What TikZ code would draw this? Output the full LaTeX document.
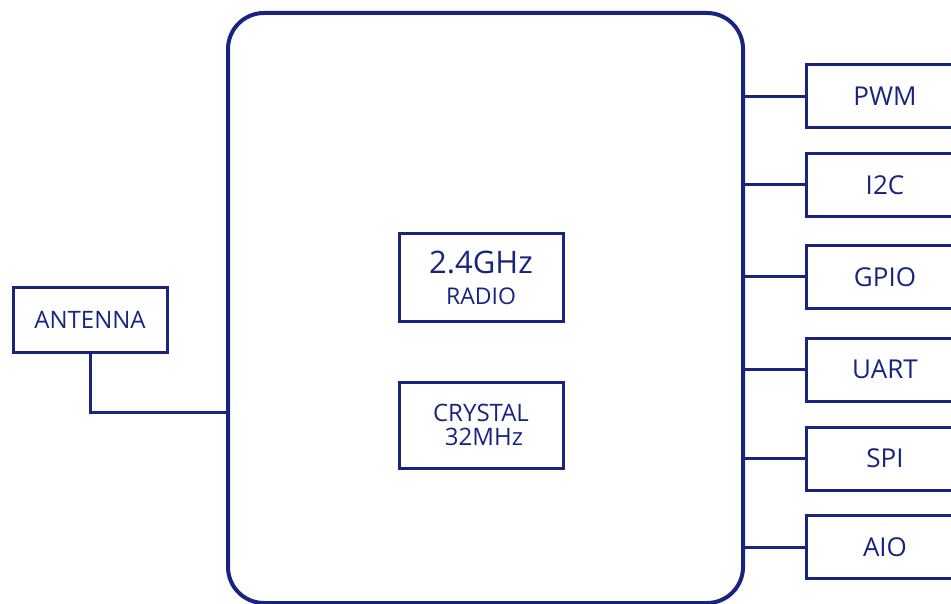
\documentclass[tikz,border=0pt]{standalone}
\usepackage{fontspec}
\setmainfont{Open Sans}
\usetikzlibrary{positioning}

\definecolor{navy}{RGB}{24,36,128}

\tikzset{
    chip/.style={draw=navy, line width=4pt, rounded corners=36pt, minimum width=515pt, minimum height=590pt},
    blk/.style={draw=navy, line width=3pt, text=navy, align=center, inner sep=0pt},
    port/.style={blk, minimum width=158pt, minimum height=63pt, font=\fontsize{26}{28}\selectfont},
    wire/.style={draw=navy, line width=3pt},
}

\begin{document}
\begin{tikzpicture}[x=1pt, y=-1pt]

    \clip (0,0) rectangle (951,604);
    \useasboundingbox (0,0) rectangle (951,604);

    % main module
    \node[chip] (main) at (485.5,308) {};

    % inner blocks
    \node[blk, minimum width=164pt, minimum height=87pt, font=\fontsize{23}{31}\selectfont] (radio) at (481,277.5)
        {{\fontsize{31}{31}\selectfont 2.4GHz}\\RADIO};
    \node[blk, minimum width=164pt, minimum height=86pt, font=\fontsize{24}{24}\selectfont] (xtal) at (481,425)
        {CRYSTAL\\\hspace{6pt}32MHz};

    % antenna
    \node[blk, minimum width=154pt, minimum height=64pt, font=\fontsize{24}{26}\selectfont] (ant) at (90,320) {ANTENNA};
    \coordinate (antY) at (0,412);
    \draw[wire] (ant.south) |- (main.west |- antY);

    % interfaces
    \node[port] (pwm)  at (885,96.5)  {PWM};
    \node[port] (i2c)  at (885,185)   {I2C};
    \node[port] (gpio) at (885,277)   {GPIO};
    \node[port] (uart) at (885,369.5) {UART};
    \node[port] (spi)  at (885,458.5) {SPI};
    \node[port] (aio)  at (885,547)   {AIO};

    \foreach \p in {pwm, i2c, gpio, uart, spi, aio}
        \draw[wire] (main.east |- \p.west) -- (\p.west);

\end{tikzpicture}
\end{document}
